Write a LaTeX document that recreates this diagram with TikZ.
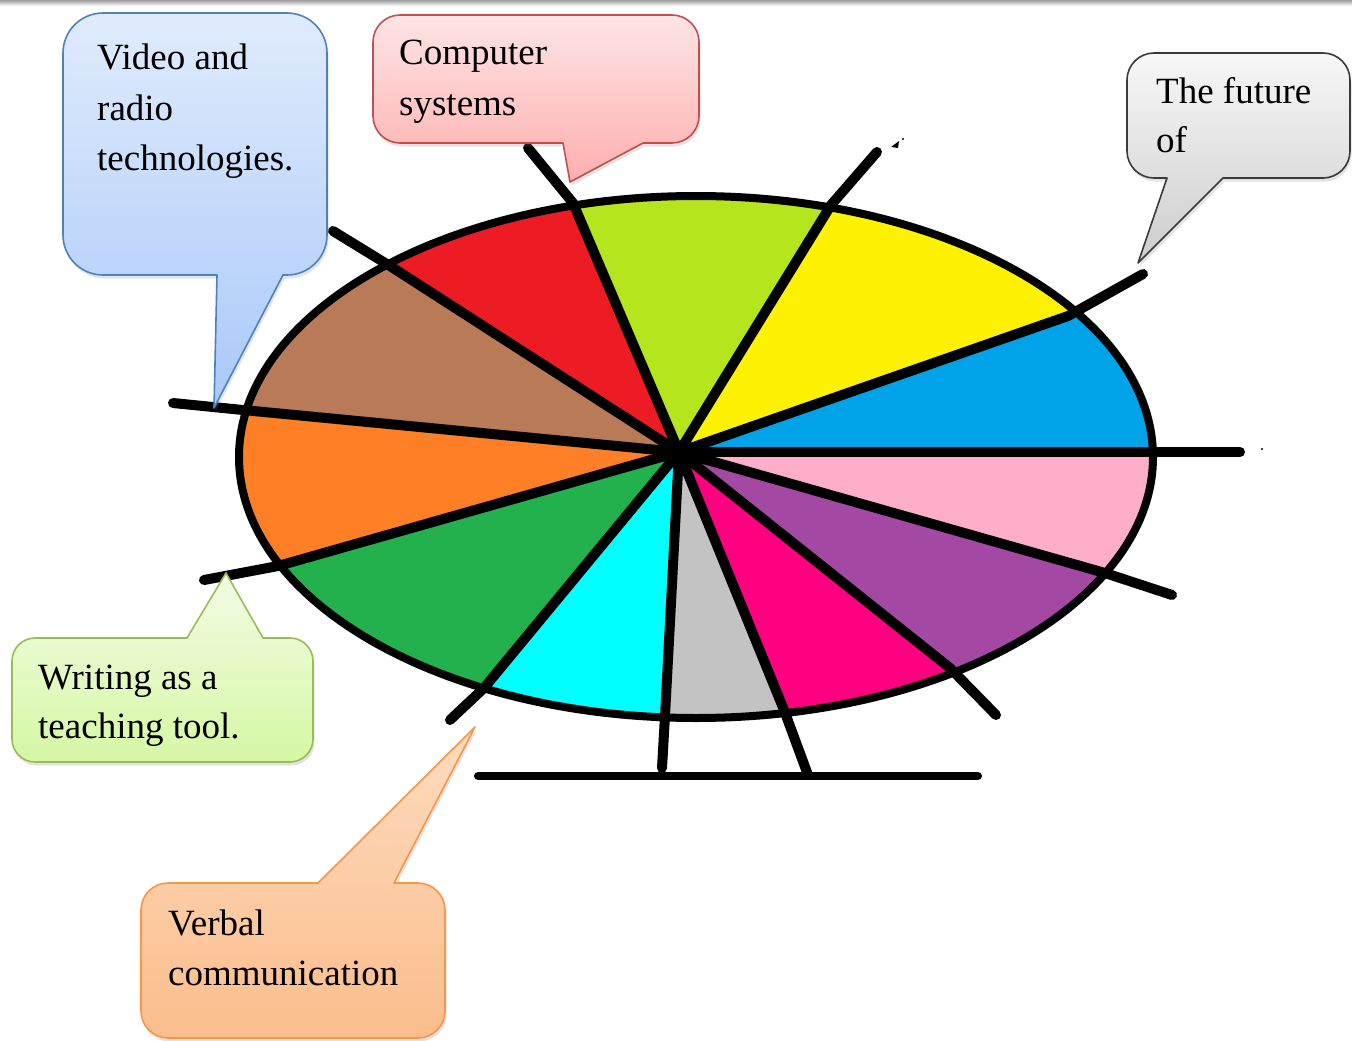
\documentclass[tikz,border=0pt]{standalone}
\usepackage{fontspec}
\setmainfont{Liberation Serif}
\usetikzlibrary{calc,shadows}
\definecolor{sblue}{HTML}{00A2E8}
\definecolor{syellow}{HTML}{FFF200}
\definecolor{slime}{HTML}{B5E61D}
\definecolor{sred}{HTML}{ED1C24}
\definecolor{sbrown}{HTML}{B97A57}
\definecolor{sorange}{HTML}{FF7F27}
\definecolor{sgreen}{HTML}{22B14C}
\definecolor{scyan}{HTML}{00FFFF}
\definecolor{sgrey}{HTML}{C3C3C3}
\definecolor{smagenta}{HTML}{FF0080}
\definecolor{spurple}{HTML}{A349A4}
\definecolor{spink}{HTML}{FFAEC9}
\definecolor{bbord}{HTML}{4F81BD}\definecolor{btop}{HTML}{E0EBFC}\definecolor{bbot}{HTML}{A9C9F9}
\definecolor{rbord}{HTML}{C0504D}\definecolor{rtop}{HTML}{FDE4E4}\definecolor{rbot}{HTML}{FFAFAF}
\definecolor{gbord}{HTML}{3A3A3A}\definecolor{gtop}{HTML}{F7F7F7}\definecolor{gbot}{HTML}{CDCDCD}
\definecolor{lbord}{HTML}{9BBB59}\definecolor{ltop}{HTML}{F2FCE6}\definecolor{lbot}{HTML}{D6F7A4}
\definecolor{obord}{HTML}{F79646}\definecolor{otop}{HTML}{FDDCBF}\definecolor{obot}{HTML}{FBBD8C}
\begin{document}
\begin{tikzpicture}[x=1pt,y=-1pt,
  spoke/.style={line width=10pt,line cap=round,line join=round},
  rim/.style={line width=8pt},
  callout/.style={line width=1.6pt,line join=round,
    drop shadow={opacity=0.22,shadow xshift=1.5pt,shadow yshift=-3.5pt}},
  txt/.style={anchor=base west,inner sep=0pt,font=\fontsize{37}{50}\selectfont}]
\useasboundingbox (0,0) rectangle (1352,1041);
\fill[white] (0,0) rectangle (1352,1041);
\shade[top color=gray!75,bottom color=white] (0,0) rectangle (1352,6);

% hub, rim crossings, spoke ends
\coordinate (H) at (679,452);
\coordinate (C1) at (1153,452);  \coordinate (E1) at (1240,452);
\coordinate (C2) at (1068,316);  \coordinate (E2) at (1143,274);
\coordinate (C3) at (831,205);   \coordinate (E3) at (877,152);
\coordinate (C4) at (573,203);   \coordinate (E4) at (528,148);
\coordinate (C5) at (390,266);   \coordinate (E5) at (333,231);
\coordinate (C6) at (243,410);   \coordinate (E6) at (173,403);
\coordinate (C7) at (278,566);   \coordinate (E7) at (204,580);
\coordinate (C8) at (484,688);   \coordinate (E8) at (450,720);
\coordinate (C9) at (665,716);   \coordinate (E9) at (662,768);
\coordinate (C10) at (784,710);  \coordinate (E10) at (808,775);
\coordinate (C11) at (950,668);  \coordinate (E11) at (996,715);
\coordinate (C12) at (1105,573); \coordinate (E12) at (1172,595);

\begin{scope}
\clip (696,457) ellipse [x radius=457,y radius=261];
\foreach \a/\b/\c in {1/2/sblue,2/3/syellow,3/4/slime,4/5/sred,5/6/sbrown,6/7/sorange,
  7/8/sgreen,8/9/scyan,9/10/sgrey,10/11/smagenta,11/12/spurple,12/1/spink}
  \fill[\c] (H) -- ($(H)!3!(C\a)$) -- ($(H)!3!(C\b)$) -- cycle;
\end{scope}
\draw[rim] (696,457) ellipse [x radius=457,y radius=261];
\foreach \i in {1,...,12}
  \draw[spoke] (H) -- (C\i) -- (E\i);
\draw[line width=8pt,line cap=round] (478,776) -- (978,776);
\fill (891,147) -- (899,141) -- (898,148) -- cycle;
\fill (903,139) circle (1.2);
\fill (1262,449) circle (1.2);

% callouts
\draw[callout,draw=bbord,top color=btop,bottom color=bbot]
  (285,275) [rounded corners=40] -- (327,275) -- (327,13) -- (63,13) -- (63,275)
  [sharp corners] -- (217,275) -- (214,408) -- (283,275) -- cycle;
\draw[callout,draw=rbord,top color=rtop,bottom color=rbot]
  (660,143) [rounded corners=27] -- (699,143) -- (699,15) -- (373,15) -- (373,143)
  [sharp corners] -- (563,143) -- (570,182) -- (643,143) -- cycle;
\draw[callout,draw=gbord,top color=gtop,bottom color=gbot]
  (1280,178) [rounded corners=27] -- (1350,178) -- (1350,53) -- (1127,53) -- (1127,178)
  [sharp corners] -- (1167,178) -- (1138,263) -- (1223,178) -- cycle;
\draw[callout,draw=lbord,top color=ltop,bottom color=lbot]
  (100,638) [rounded corners=23] -- (12,638) -- (12,762) -- (313,762) -- (313,638)
  [sharp corners] -- (263,638) -- (226,573) -- (187,638) -- cycle;
\draw[callout,draw=obord,top color=otop,bottom color=obot]
  (220,883) [rounded corners=27] -- (141,883) -- (141,1038) -- (445,1038) -- (445,883)
  [sharp corners] -- (394,883) -- (475,727) -- (318,883) -- cycle;

% texts
\node[txt] (v1) at (97,70) {Video and};
\node[txt] (v2) at (97,120) {radio};
\node[txt] (v3) at (97,170) {technologies.};
\node[txt] (c1) at (399,65) {Computer};
\node[txt] (c2) at (399,115) {systems};
\node[txt] (f1) at (1156,103) {The future};
\node[txt] (f2) at (1156,152) {of};
\node[txt] (w1) at (38,689) {Writing as a};
\node[txt] (w2) at (38,738) {teaching tool.};
\node[txt] (b1) at (168,935) {Verbal};
\node[txt] (b2) at (168,985) {communication};
\end{tikzpicture}
\end{document}
